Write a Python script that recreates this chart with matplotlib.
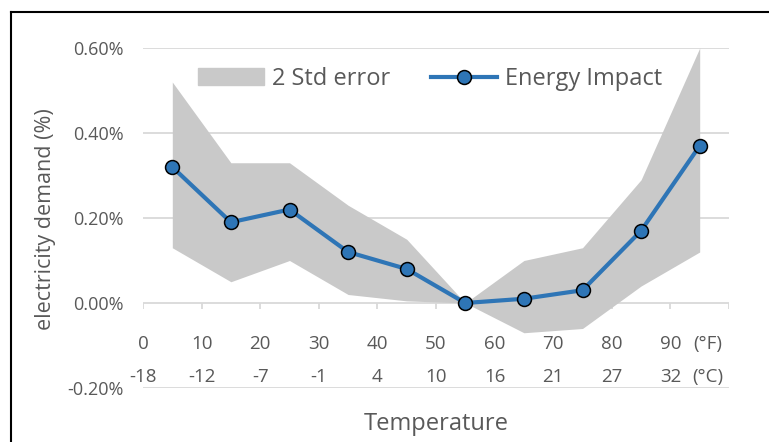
import matplotlib
matplotlib.use("Agg")
import matplotlib.pyplot as plt
from matplotlib.patches import Patch
from matplotlib.lines import Line2D

plt.rcParams["font.family"] = ["Open Sans", "DejaVu Sans"]

# temperature bins (deg F midpoints)
temp_f = [5, 15, 25, 35, 45, 55, 65, 75, 85, 95]
impact = [0.32, 0.19, 0.22, 0.12, 0.08, 0.00, 0.01, 0.03, 0.17, 0.37]
err_hi = [0.52, 0.33, 0.33, 0.23, 0.15, 0.00, 0.10, 0.13, 0.29, 0.60]
err_lo = [0.13, 0.05, 0.10, 0.02, 0.005, 0.00, -0.07, -0.06, 0.04, 0.12]

f_ticks = [0, 10, 20, 30, 40, 50, 60, 70, 80, 90]
c_labels = ["-18", "-12", "-7", "-1", "4", "10", "16", "21", "27", "32"]
y_ticks = [-0.2, 0.0, 0.2, 0.4, 0.6]

txt = "#595959"
grid = "#d9d9d9"
blue = "#2e75b6"
band = "#c9c9c9"

fig = plt.figure(figsize=(7.69, 4.42), dpi=100)
ax = fig.add_axes([143 / 769, 1 - 388 / 442, (729 - 143) / 769, (388 - 48) / 442])

ax.fill_between(temp_f, err_lo, err_hi, color=band, lw=0, zorder=1)
ax.plot(temp_f, impact, color=blue, lw=3, marker="o", ms=10,
        mfc=blue, mec="black", mew=1.1, zorder=3)

ax.set_xlim(0, 100)
ax.set_ylim(-0.2, 0.6)
ax.set_yticks(y_ticks)
ax.set_yticklabels(["%.2f%%" % v for v in y_ticks])
ax.set_xticks([])
ax.tick_params(axis="y", length=0, pad=14, labelsize=13, labelcolor=txt)
for s in ax.spines.values():
    s.set_visible(False)
for v in y_ticks:
    ax.axhline(v, color=grid, lw=1.3, zorder=0)
# small tick marks under the zero line
ax.vlines(f_ticks + [100], -0.014, 0, color=grid, lw=1.3, zorder=0)

# two rows of temperature labels
for f, c in zip(f_ticks, c_labels):
    ax.text(f, -0.097, str(f), ha="center", va="center", fontsize=13.5, color=txt)
    ax.text(f, -0.174, c, ha="center", va="center", fontsize=13.5, color=txt)
ax.text(96.3, -0.097, "(°F)", ha="center", va="center", fontsize=13.5, color=txt)
ax.text(96.3, -0.174, "(°C)", ha="center", va="center", fontsize=13.5, color=txt)

fig.text(46 / 769, 1 - 219 / 442, "electricity demand (%)", rotation=90,
         ha="center", va="center", fontsize=15.5, color=txt)
fig.text(436 / 769, 1 - 424 / 442, "Temperature", ha="center", va="center",
         fontsize=17, color=txt)

handles = [Patch(color=band, label="2 Std error"),
           Line2D([], [], color=blue, lw=3, marker="o", ms=10, mfc=blue,
                  mec="black", mew=1.1, label="Energy Impact")]
leg = fig.legend(handles=handles, loc="center", bbox_to_anchor=(430 / 769, 1 - 79 / 442),
                 ncol=2, frameon=False, fontsize=17, handlelength=2.8,
                 handletextpad=0.35, columnspacing=1.7, labelcolor=txt)

# border: only top and left edges are visible
fig.add_artist(Line2D([11 / 769, 1], [1 - 12 / 442, 1 - 12 / 442], color="black", lw=1.5))
fig.add_artist(Line2D([11 / 769, 11 / 769], [0, 1 - 12 / 442], color="black", lw=1.5))

fig.savefig("out.png", dpi=100)
